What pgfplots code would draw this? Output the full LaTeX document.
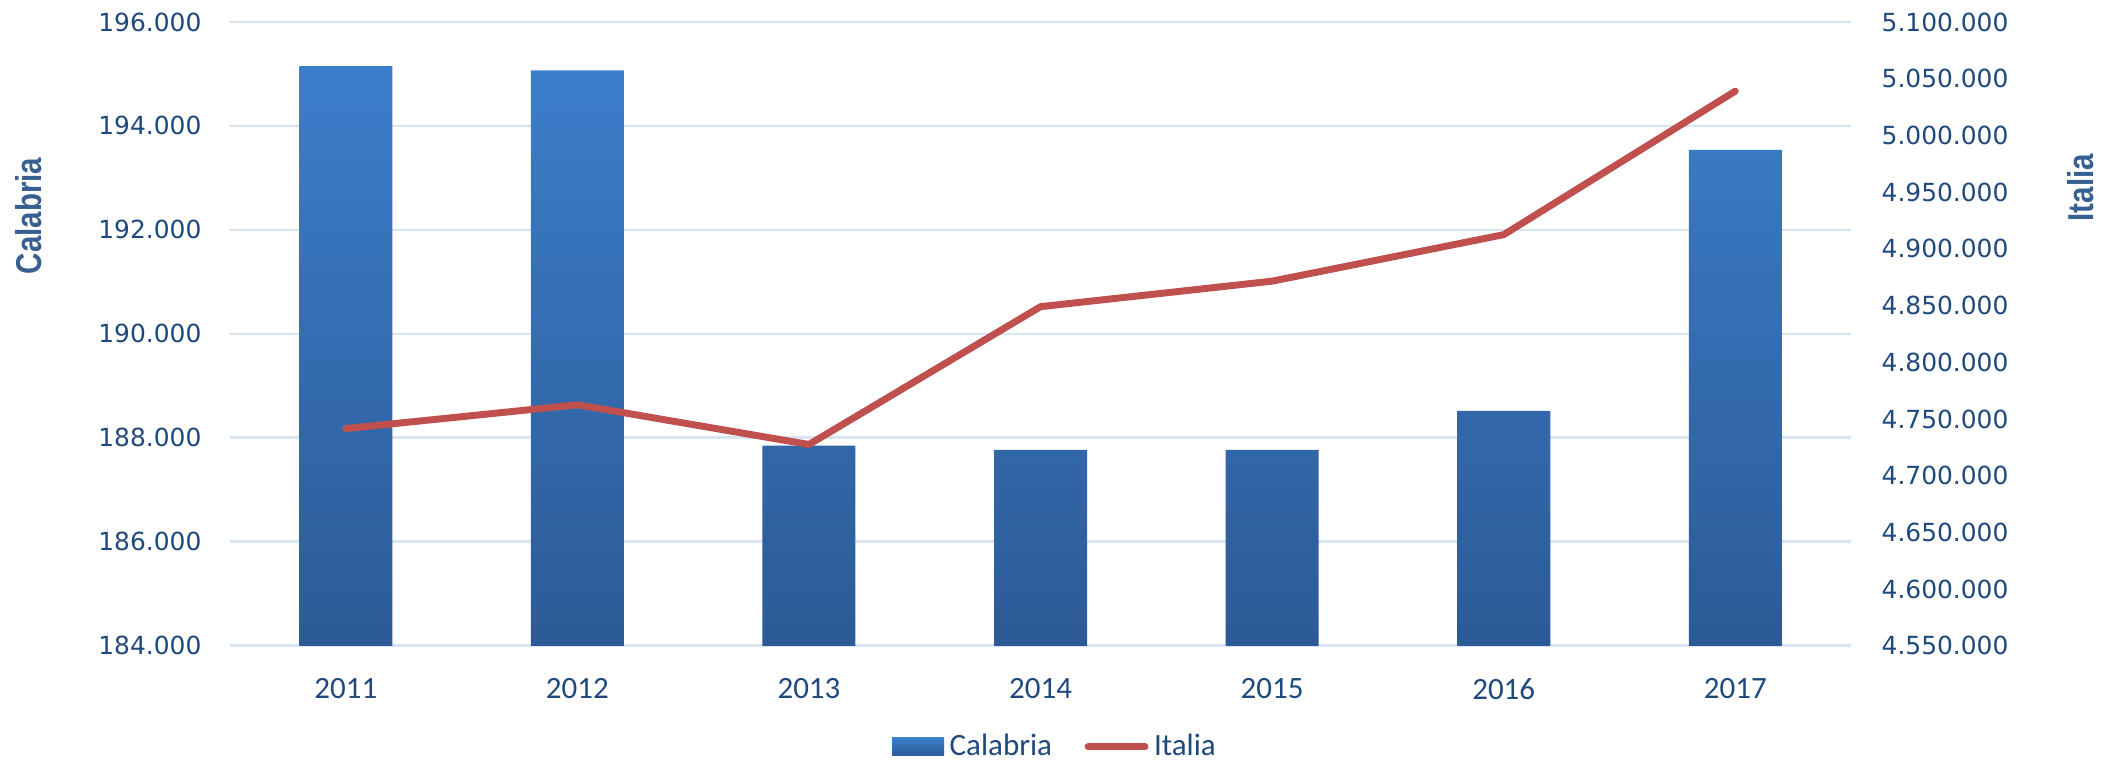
\documentclass[border=0pt]{standalone}
\usepackage{pgfplots}
\pgfplotsset{compat=1.18}
\usepackage{pgfplotstable}
\usepackage{fontspec}
\setmainfont{Carlito}
\newfontfamily\tickfont{DejaVu Sans}
\newfontfamily\titlefont[FakeStretch=0.82]{Liberation Sans}

\definecolor{barTop}{RGB}{60,126,203}
\definecolor{barBot}{RGB}{44,90,150}
\definecolor{lineRed}{RGB}{192,80,77}
\definecolor{gridBlue}{RGB}{217,228,242}
\definecolor{tickBlue}{RGB}{31,73,125}
\definecolor{titleBlue}{RGB}{54,96,146}

% anno, Calabria (asse sinistro), Italia (asse destro)
\pgfplotstableread{
anno calabria italia
2011 195150 4741500
2012 195070 4762500
2013 187850 4727500
2014 187770 4849000
2015 187770 4871500
2016 188520 4912500
2017 193540 5039000
}\datatable

\pgfplotsset{
  common/.style={
    at={(0,0)}, anchor=south west,
    scale only axis, width=583.6bp, height=224.6bp,
    xmin=-0.5, xmax=6.5,
    axis line style={draw=none},
    tick style={draw=none},
    scaled y ticks=false,
  },
  ticklab/.style={font=\tickfont\fontsize{9}{11}\selectfont, text=tickBlue, inner sep=0pt},
}

\begin{document}
\begin{tikzpicture}
\path[use as bounding box] (-82.8bp,-42.5bp) rectangle (680.4bp,232.5bp);

% barre: Calabria
\begin{axis}[common,
    ymin=0, ymax=12000,
    ytick={0,2000,4000,6000,8000,10000,12000},
    yticklabels={184.000,186.000,188.000,190.000,192.000,194.000,196.000},
    ymajorgrids, grid style={gridBlue, line width=1bp},
    xtick={0,...,6},
    xticklabels={2011,2012,2013,2014,2015,2016,2017},
    xticklabel style={font=\fontsize{11.2}{13}\selectfont, text=tickBlue,
                      anchor=center, inner sep=0pt, yshift=-15.5bp},
    yticklabel style={ticklab, anchor=east, xshift=-10.1bp},
]
\addplot[ybar, bar width=33.5bp, draw=none,
         top color=barTop, bottom color=barBot,
         y filter/.expression={y-184000}]
  table[x expr=\coordindex, y=calabria] {\datatable};
\end{axis}

% linea: Italia
\begin{axis}[common,
    ymin=4550000, ymax=5100000,
    ytick={4550000,4600000,4650000,4700000,4750000,4800000,4850000,4900000,4950000,5000000,5050000,5100000},
    axis y line*=right, axis x line=none,
    yticklabel style={ticklab, anchor=west, xshift=10.8bp,
                      /pgf/number format/.cd, fixed, precision=0, 1000 sep={.}, assume math mode=true},
    legend columns=2,
    legend style={at={(0.510,-0.162)}, anchor=center, draw=none, fill=none,
                  font=\fontsize{11.2}{13}\selectfont, text=tickBlue,
                  /tikz/every even column/.append style={column sep=9.7bp}},
]
\addlegendimage{legend image code/.code={
  \path[draw=none, top color=barTop, bottom color=barBot] (0bp,-3.25bp) rectangle (18.7bp,3.25bp);}}
\addlegendentry{Calabria}
\addplot[lineRed, line width=2.5bp, line cap=round, line join=round, mark=none,
         legend image code/.code={\draw[lineRed, line width=2.5bp, line cap=round] (0bp,0bp) -- (20.5bp,0bp);}]
  table[x expr=\coordindex, y=italia] {\datatable};
\addlegendentry{Italia}
\end{axis}

\node[rotate=90, font=\titlefont\bfseries\fontsize{13}{15}\selectfont, text=titleBlue]
  at (-72.5bp,154.8bp) {Calabria};
\node[rotate=90, font=\titlefont\bfseries\fontsize{13}{15}\selectfont, text=titleBlue]
  at (666.4bp,164.9bp) {Italia};
\end{tikzpicture}
\end{document}
